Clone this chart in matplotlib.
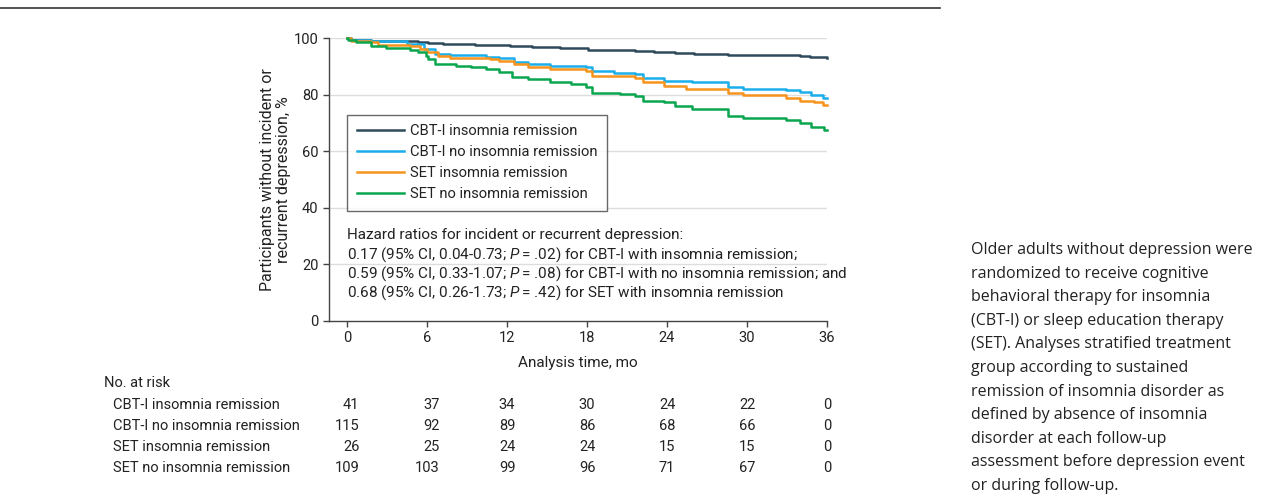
import matplotlib
matplotlib.use('Agg')
import matplotlib.pyplot as plt
import matplotlib.transforms as mtransforms
from matplotlib import font_manager

# pick installed faces
def pick_font(names):
    for n in names:
        try:
            font_manager.findfont(n, fallback_to_default=False)
            return n
        except Exception:
            pass
    return 'DejaVu Sans'

chartfont = pick_font(['Roboto', 'DejaVu Sans'])
body = pick_font(['Open Sans', 'Noto Sans', 'DejaVu Sans'])
plt.rcParams['font.family'] = [chartfont, 'DejaVu Sans']
plt.rcParams['mathtext.fontset'] = 'custom'
plt.rcParams['mathtext.rm'] = chartfont
plt.rcParams['mathtext.it'] = chartfont + ':italic'

# data (months, % without depression)
t_cbt_rem = [0, 0.3, 1.8, 5.3, 6.1, 7.2, 9.6, 12.2, 13.9, 16.0, 18.1, 19.5, 21.6, 23.0, 24.6, 26.0, 28.6, 31.0, 34.0, 34.7, 36]
s_cbt_rem = [100, 99.2, 98.9, 98.5, 98.1, 97.9, 97.5, 97.2, 96.8, 96.3, 95.9, 95.7, 95.4, 95.1, 94.7, 94.5, 94.0, 93.9, 93.7, 93.2, 92.9]

t_cbt_norem = [0, 0.3, 1.8, 4.5, 5.8, 6.6, 7.7, 10.4, 11.4, 12.5, 13.6, 15.2, 17.9, 18.4, 20.0, 21.6, 22.2, 23.8, 25.9, 28.6, 29.7, 32.9, 34.0, 34.8, 35.7, 36]
s_cbt_norem = [100, 99.3, 99.0, 97.9, 96.1, 94.3, 94.0, 93.4, 92.9, 91.4, 90.8, 90.2, 89.6, 88.2, 87.6, 87.2, 85.8, 84.9, 84.3, 82.7, 82.1, 81.5, 81.0, 79.9, 78.9, 78.9]

t_set_rem = [0, 0.3, 1.8, 2.3, 4.7, 5.5, 6.0, 6.8, 7.7, 10.7, 11.4, 12.5, 13.6, 15.2, 17.9, 18.4, 21.6, 22.2, 23.8, 25.4, 28.6, 29.7, 32.9, 34.0, 35.0, 35.7, 36]
s_set_rem = [100, 99.0, 98.5, 97.6, 97.0, 96.1, 94.9, 93.5, 93.1, 92.5, 92.0, 90.8, 89.8, 89.0, 88.4, 86.6, 85.8, 84.3, 83.1, 81.9, 80.4, 79.9, 78.9, 77.8, 77.2, 76.3, 76.3]

t_set_norem = [0, 0.1, 0.7, 1.8, 2.9, 4.7, 5.3, 5.9, 6.1, 6.6, 8.2, 9.3, 10.4, 11.4, 12.4, 13.6, 15.2, 16.8, 17.9, 18.4, 20.5, 21.6, 22.2, 23.8, 24.6, 25.9, 28.6, 29.7, 32.9, 34.0, 34.8, 35.8, 36]
s_set_norem = [100, 99.3, 98.5, 97.3, 96.3, 95.7, 95.1, 93.7, 92.5, 90.8, 90.2, 89.6, 89.0, 87.8, 86.3, 85.4, 84.5, 83.7, 82.5, 80.7, 80.1, 79.5, 77.8, 77.2, 76.0, 74.8, 72.4, 71.6, 71.0, 70.1, 68.5, 67.3, 67.3]

groups = ['CBT-I insomnia remission', 'CBT-I no insomnia remission',
          'SET insomnia remission', 'SET no insomnia remission']
colors = ['#2f4b5b', '#1aaeea', '#f7941d', '#0aa64f']

risk_times = [0, 6, 12, 18, 24, 30, 36]
risk_cbt_rem = [41, 37, 34, 30, 24, 22, 0]
risk_cbt_norem = [115, 92, 89, 86, 68, 66, 0]
risk_set_rem = [26, 25, 24, 24, 15, 15, 0]
risk_set_norem = [109, 103, 99, 96, 71, 67, 0]

hr_lines = ['Hazard ratios for incident or recurrent depression:',
            '0.17 (95% CI, 0.04-0.73; $\\it{P}$\u2009= .02) for CBT-I with insomnia remission;',
            '0.59 (95% CI, 0.33-1.07; $\\it{P}$\u2009= .08) for CBT-I with no insomnia remission; and',
            '0.68 (95% CI, 0.26-1.73; $\\it{P}$\u2009= .42) for SET with insomnia remission']

caption = ['Older adults without depression were',
           'randomized to receive cognitive',
           'behavioral therapy for insomnia',
           '(CBT-I) or sleep education therapy',
           '(SET). Analyses stratified treatment',
           'group according to sustained',
           'remission of insomnia disorder as',
           'defined by absence of insomnia',
           'disorder at each follow-up',
           'assessment before depression event',
           'or during follow-up.']

W, H = 1265, 497
fig = plt.figure(figsize=(W / 100, H / 100), dpi=100)
ax = fig.add_axes([329 / W, 1 - 320.7 / H, (827 - 329) / W, (320.7 - 38) / H])

curves = [(t_cbt_rem, s_cbt_rem), (t_cbt_norem, s_cbt_norem),
          (t_set_rem, s_set_rem), (t_set_norem, s_set_norem)]
for (t, s), g, c in zip(curves, groups, colors):
    ax.step(t, s, where='post', color=c, lw=1.8, label=g, clip_on=False, zorder=3)

ax.set_xlim(-1.35, 36)
ax.set_ylim(0, 100)
ax.set_xticks(risk_times)
ax.set_yticks([0, 20, 40, 60, 80, 100])
for yv in [20, 40, 60, 80, 100]:
    ax.plot([-1.35, 36], [yv, yv], color='#dddddd', lw=1, zorder=1)
ax.spines['top'].set_visible(False)
ax.spines['right'].set_visible(False)
for sp in ['left', 'bottom']:
    ax.spines[sp].set_color('#444444')
    ax.spines[sp].set_linewidth(1)
ax.tick_params(colors='#444444', labelcolor='#222222', labelsize=10.5, length=4, width=1)
ax.set_xlabel('Analysis time, mo', fontsize=11, color='#222222', labelpad=8)
ax.set_ylabel('Participants without incident or\nrecurrent depression, %', fontsize=11.5,
              color='#222222', linespacing=1.12)
ax.yaxis.set_label_coords(-0.076, 0.5)

leg = ax.legend(loc='upper left', bbox_to_anchor=(1.35 / 37.35, 0.729), fontsize=10.6,
                frameon=True, fancybox=False, handlelength=3.2, handletextpad=0.45,
                borderpad=0.65, labelspacing=0.48, borderaxespad=0)
leg.get_frame().set_edgecolor('#444444')
leg.get_frame().set_linewidth(1)
leg.set_zorder(5)
for t in leg.get_texts():
    t.set_color('#222222')

for i, line in enumerate(hr_lines):
    ax.text(0, 30.2 - i * 6.7, line, fontsize=11, color='#222222', va='center', ha='left', zorder=6)

# number at risk table
bt = mtransforms.blended_transform_factory(ax.transData, fig.transFigure)
fig.text(104 / W, 1 - 383 / H, 'No. at risk', fontsize=10.5, color='#222222', va='center')
rows = [risk_cbt_rem, risk_cbt_norem, risk_set_rem, risk_set_norem]
for r, (g, vals) in enumerate(zip(groups, rows)):
    yy = 1 - (405 + r * 21) / H
    fig.text(113 / W, yy, g, fontsize=10.5, color='#222222', va='center')
    for j, tm in enumerate(risk_times):
        width = max(len(str(rr[j])) for rr in rows)
        ax.text(tm + width * 0.31, yy, str(vals[j]), transform=bt, fontsize=10.5,
                color='#222222', va='center', ha='right', clip_on=False)

# top rule
fig.add_artist(plt.Line2D([0, 940 / W], [1 - 8 / H, 1 - 8 / H], color='#333333', lw=1.2))

for i, line in enumerate(caption):
    fig.text(971 / W, 1 - (250 + i * 23.6) / H, line, fontsize=11.5, family=[body, 'DejaVu Sans'],
             color='#222222', va='center', ha='left')

fig.savefig('out.png', dpi=100)
